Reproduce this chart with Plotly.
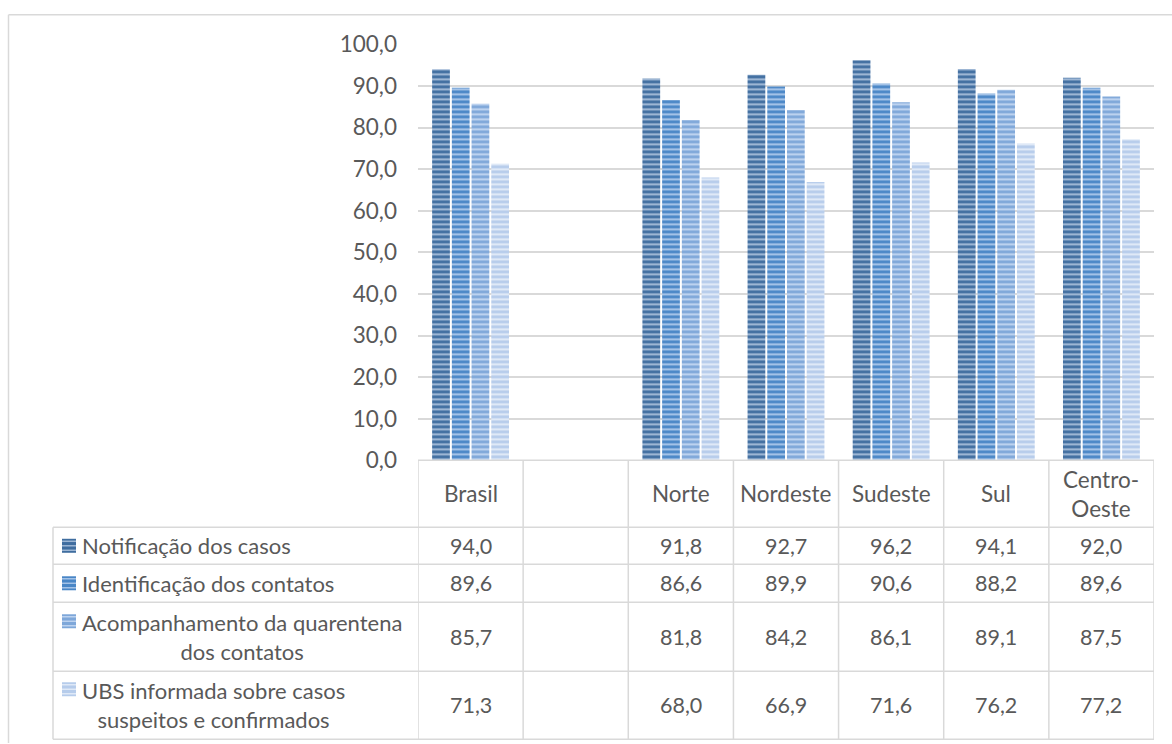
import plotly.graph_objects as go

# Regions (one blank spacer column after Brasil)
categories = ["Brasil", " ", "Norte", "Nordeste", "Sudeste", "Sul", "Centro-Oeste"]
header_labels = ["Brasil", "", "Norte", "Nordeste", "Sudeste", "Sul", "Centro-<br>Oeste"]

series_names = [
    "Notificação dos casos",
    "Identificação dos contatos",
    "Acompanhamento da quarentena<br>dos contatos",
    "UBS informada sobre casos<br>suspeitos e confirmados",
]
notificacao = [94.0, None, 91.8, 92.7, 96.2, 94.1, 92.0]
identificacao = [89.6, None, 86.6, 89.9, 90.6, 88.2, 89.6]
acompanhamento = [85.7, None, 81.8, 84.2, 86.1, 89.1, 87.5]
ubs_informada = [71.3, None, 68.0, 66.9, 71.6, 76.2, 77.2]
series_values = [notificacao, identificacao, acompanhamento, ubs_informada]

y_ticks = [0, 10, 20, 30, 40, 50, 60, 70, 80, 90, 100]

# stripe colours: (dark stripe, light background)
stripe_colors = [
    ("#3f6d9f", "#9db6d4"),
    ("#4986c6", "#a3c2e7"),
    ("#7ea7d9", "#bcd2ef"),
    ("#b6cceb", "#dfe9f7"),
]

W, H = 1172, 756          # figure size in px
Y0, KY = 14.6, 0.9645     # page placement of the figure (vertical offset / scale)
FONT = "Lato"
TXT = "#595959"
GRID = "#d9d9d9"


def px(x):
    return x / W


def py(y):
    return 1 - ((y - Y0) / KY) / H


def fmt(v):
    return "" if v is None else f"{v:.1f}".replace(".", ",")


def font(size):
    return dict(family=FONT, size=size, color=TXT)


fig = go.Figure()
for name, vals, (fg, bg) in zip(series_names, series_values, stripe_colors):
    fig.add_trace(go.Bar(
        x=categories, y=vals, name=name.replace("<br>", " "),
        marker=dict(
            color=bg,
            line=dict(width=0),
            pattern=dict(shape="-", fgcolor=fg, bgcolor=bg, size=5,
                         solidity=0.55, fillmode="replace"),
        ),
        showlegend=False,
    ))

# chart frame
shapes = [
    dict(type="line", xref="paper", yref="paper", x0=px(8.5), x1=1.0,
         y0=py(15.3), y1=py(15.3), line=dict(color=GRID, width=1.5)),
    dict(type="line", xref="paper", yref="paper", x0=px(8.5), x1=px(8.5),
         y0=py(15.3), y1=0, line=dict(color=GRID, width=1.5)),
]

# data table grid
x_left, x_right = 53, 1154
row_lines = [528, 565, 603, 672, 740]
shapes.append(dict(type="line", xref="paper", yref="paper", x0=px(418), x1=px(x_right),
                   y0=py(461), y1=py(461), line=dict(color=GRID, width=1.5)))
for yl in row_lines:
    shapes.append(dict(type="line", xref="paper", yref="paper", x0=px(x_left), x1=px(x_right),
                       y0=py(yl), y1=py(yl), line=dict(color=GRID, width=1.5)))
for i in range(len(categories) + 1):
    shapes.append(dict(type="line", xref="x", yref="paper", x0=i - 0.5, x1=i - 0.5,
                       y0=py(461), y1=py(740), line=dict(color=GRID, width=1.5)))
shapes.append(dict(type="line", xref="paper", yref="paper", x0=px(x_left), x1=px(x_left),
                   y0=py(528), y1=py(740), line=dict(color=GRID, width=1.5)))

annotations = []
# header row
for cat, lab in zip(categories, header_labels):
    if lab:
        annotations.append(dict(x=cat, xref="x", y=py(494.5), yref="paper", text=lab,
                                showarrow=False, font=font(22.5),
                                xanchor="center", yanchor="middle", align="center"))

row_centers = [546.5, 584, 637.5, 706]
key_centers = [546.5, 584, 622, 690]
for name, vals, (fg, bg), yc, yk in zip(series_names, series_values, stripe_colors,
                                        row_centers, key_centers):
    annotations.append(dict(x=px(80), xref="paper", y=py(yc), yref="paper", text=name,
                            showarrow=False, font=font(22),
                            xanchor="left", yanchor="middle", align="center"))
    # striped legend key
    shapes.append(dict(type="rect", xref="paper", yref="paper", x0=px(62), x1=px(76),
                       y0=py(yk - 7), y1=py(yk + 7), fillcolor=fg, line=dict(width=0)))
    for k in range(3):
        yy = yk - 4.5 + k * 4.5
        shapes.append(dict(type="line", xref="paper", yref="paper", x0=px(62), x1=px(76),
                           y0=py(yy), y1=py(yy), line=dict(color=bg, width=1.5)))
    for cat, v in zip(categories, vals):
        if v is not None:
            annotations.append(dict(x=cat, xref="x", y=py(yc), yref="paper", text=fmt(v),
                                    showarrow=False, font=font(21.5),
                                    xanchor="center", yanchor="middle"))

fig.update_layout(
    width=W, height=H, autosize=False,
    margin=dict(l=0, r=0, t=0, b=0),
    paper_bgcolor="white", plot_bgcolor="white",
    separators=",.",
    barmode="group", bargap=0.25, bargroupgap=0.1,
    font=font(22),
    xaxis=dict(domain=[px(418), px(1154)], type="category", categoryorder="array",
               categoryarray=categories, showticklabels=False, showgrid=False,
               showline=False, zeroline=False, range=[-0.5, 6.5], fixedrange=True),
    yaxis=dict(domain=[py(461), py(45)], range=[0, 100], tickvals=y_ticks,
               tickformat=".1f", showgrid=True, gridcolor=GRID, gridwidth=1.5,
               zeroline=False, showline=False, ticks="", ticklabelstandoff=20,
               tickfont=font(22.5), fixedrange=True),
    shapes=shapes,
    annotations=annotations,
)

fig.write_html("out.html")
